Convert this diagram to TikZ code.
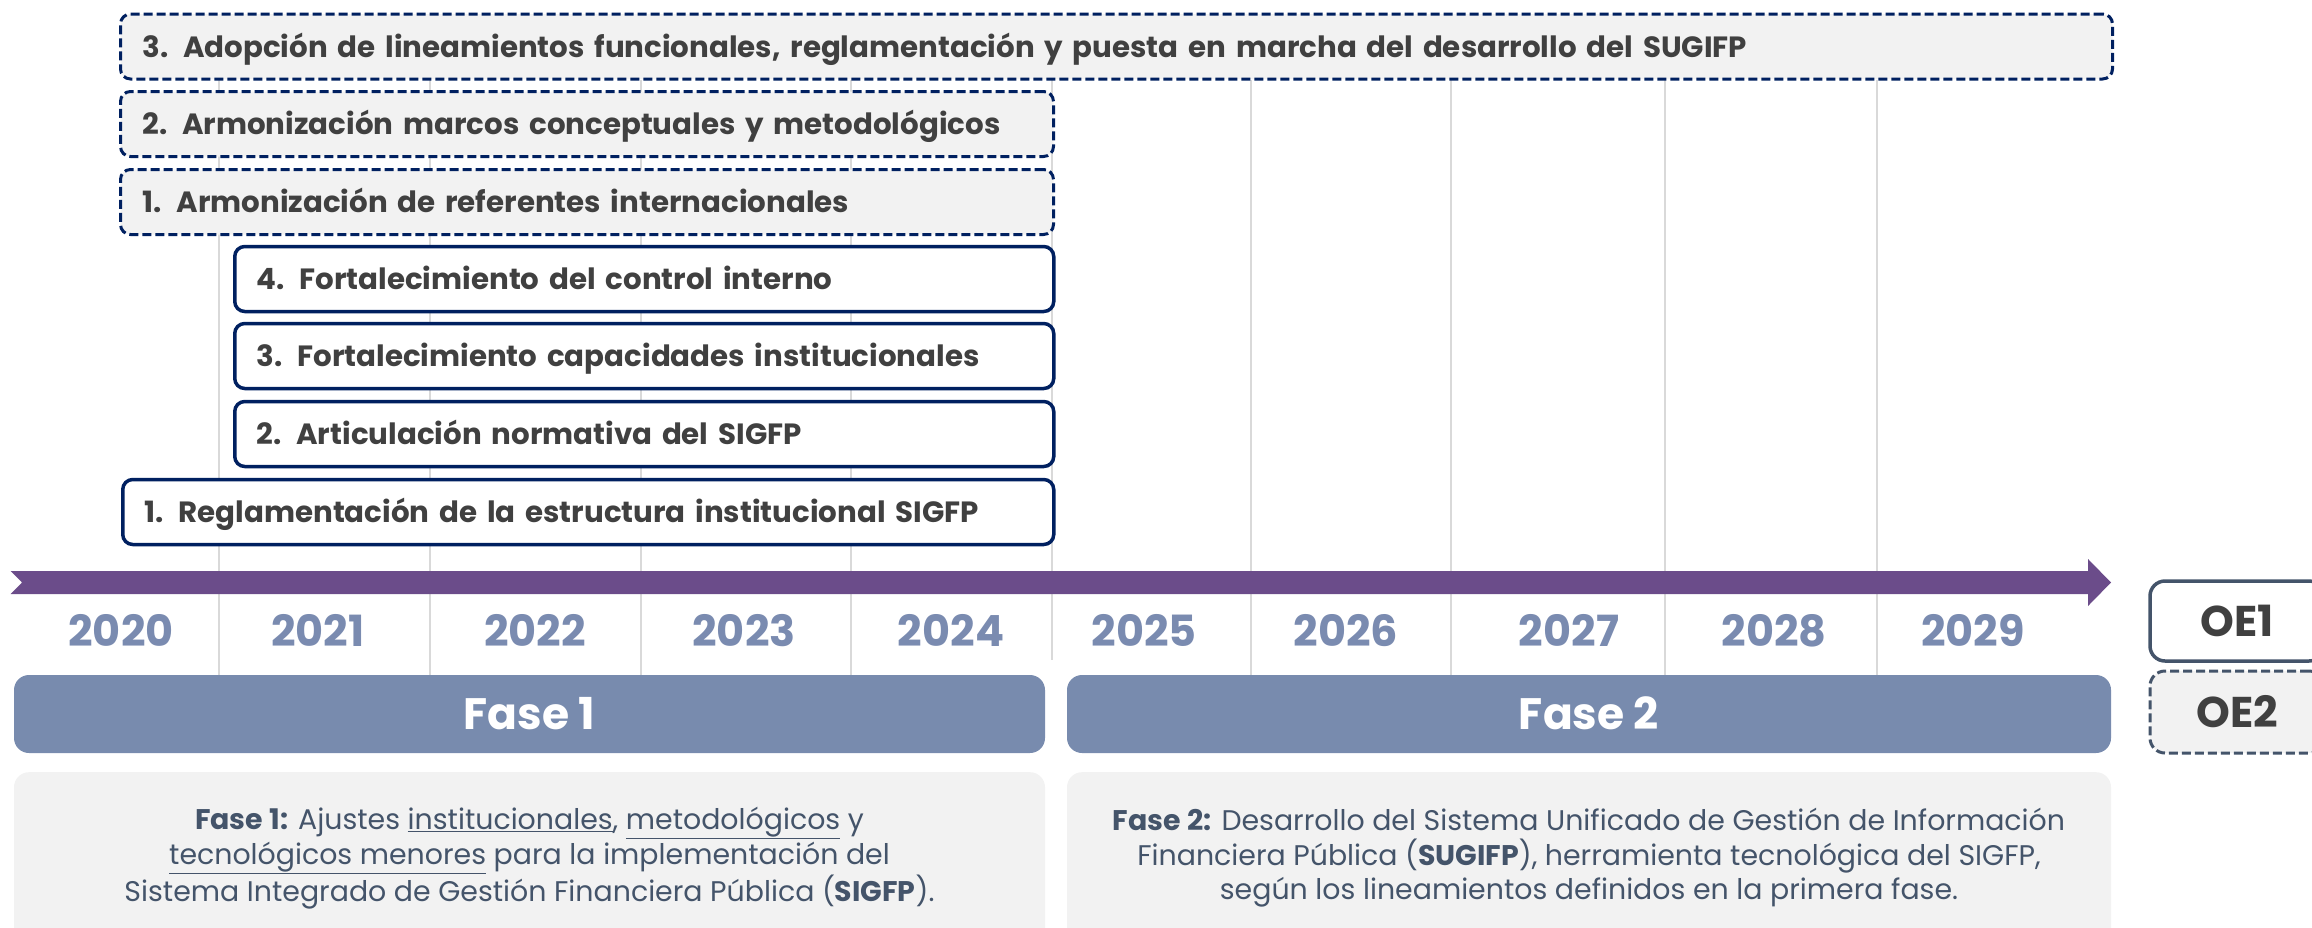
\documentclass[tikz,border=0pt]{standalone}
\usepackage{fontspec}
\setmainfont{Poppins}

\definecolor{navy}{RGB}{0,32,96}
\definecolor{slateline}{RGB}{68,84,106}
\definecolor{txtgray}{RGB}{64,64,64}
\definecolor{yearblue}{RGB}{122,139,176}
\definecolor{fasefill}{RGB}{120,139,174}
\definecolor{lightfill}{RGB}{242,242,242}
\definecolor{gridgray}{RGB}{217,217,217}
\definecolor{timeline}{RGB}{107,76,138}

\begin{document}
\begin{tikzpicture}[x=1pt, y=-1pt,
  every node/.style={inner sep=0pt},
  oeuno/.style={draw=navy, line width=3.5pt, rounded corners=10pt, fill=white,
    minimum height=65pt, inner xsep=22pt, anchor=west, align=left,
    text=txtgray, text height=21pt, text depth=0pt,
    font=\fontsize{29.3}{36}\selectfont\bfseries},
  oedos/.style={oeuno, dash pattern=on 9pt off 4pt, line width=3pt, fill=lightfill},
  year/.style={text=yearblue, text height=31pt, text depth=0pt,
    font=\fontsize{43}{43}\selectfont\bfseries},
  fasebar/.style={fill=fasefill, rounded corners=15pt, minimum width=1031pt,
    minimum height=78pt, text=white, text height=31pt, text depth=0pt,
    font=\fontsize{44}{44}\selectfont\bfseries},
  fasebg/.style={fill=lightfill, rounded corners=15pt, minimum width=1031pt,
    minimum height=190pt, anchor=north},
  fasenote/.style={text=slateline, align=center,
    font=\fontsize{28.4}{34.5}\selectfont},
  legend/.style={draw=slateline, line width=3.5pt, rounded corners=15pt, fill=white,
    minimum width=174pt, minimum height=80pt, text=txtgray,
    text height=31pt, text depth=0pt, font=\fontsize{43}{43}\selectfont\bfseries},
]
\useasboundingbox (0,0) rectangle (2312,927);
\clip (0,0) rectangle (2312,927);

% year grid
\draw[gridgray, line width=2pt] (219,80) -- (219,675);
\draw[gridgray, line width=2pt] (430,80) -- (430,675);
\draw[gridgray, line width=2pt] (641,80) -- (641,675);
\draw[gridgray, line width=2pt] (851,80) -- (851,675);
\draw[gridgray, line width=2pt] (1052,80) -- (1052,660);
\draw[gridgray, line width=2pt] (1251,80) -- (1251,675);
\draw[gridgray, line width=2pt] (1451,80) -- (1451,675);
\draw[gridgray, line width=2pt] (1665,80) -- (1665,675);
\draw[gridgray, line width=2pt] (1877,80) -- (1877,675);

% OE2 lines
\node[oedos, text width=1948pt] (l3) at (119,46.5) {3. Adopción de lineamientos funcionales, reglamentación y puesta en marcha del desarrollo del SUGIFP};
\node[oedos, text width=889pt] (l2) at (119,124) {2. Armonización marcos conceptuales y metodológicos};
\node[oedos, text width=889pt] (l1) at (119,202) {1. Armonización de referentes internacionales};

% OE1 lines
\node[oeuno, text width=775pt] (e4) at (233,279) {4. Fortalecimiento del control interno};
\node[oeuno, text width=775pt] (e3) at (233,356) {3. Fortalecimiento capacidades institucionales};
\node[oeuno, text width=775pt] (e2) at (233,434) {2. Articulación normativa del SIGFP};
\node[oeuno, text width=887pt] (e1) at (121,512) {1. Reglamentación de la estructura institucional SIGFP};

% timeline
\fill[timeline] (10.7,571) -- (2088,571) -- (2088,559) -- (2111,582.5)
  -- (2088,606) -- (2088,594) -- (10.7,594) -- (22,582.5) -- cycle;

% years
\node[year] (y2020) at (121,631) {2020};
\node[year] (y2021) at (318,631) {2021};
\node[year] (y2022) at (535,631) {2022};
\node[year] (y2023) at (744,631) {2023};
\node[year] (y2024) at (951,631) {2024};
\node[year] (y2025) at (1144,631) {2025};
\node[year] (y2026) at (1346,631) {2026};
\node[year] (y2027) at (1569,631) {2027};
\node[year] (y2028) at (1774,631) {2028};
\node[year] (y2029) at (1973,631) {2029};

% phases
\node[fasebar] (f1) at (529.5,714) {Fase 1};
\node[fasebar, minimum width=1044pt] (f2) at (1589,714) {Fase 2};

\node[fasebg] (bg1) at (529.5,772) {};
\node[fasebg, minimum width=1044pt] (bg2) at (1589,772) {};

\node[fasenote] (n1) at (529.5,858) {\textbf{Fase 1:} Ajustes \underline{institucionales}, \underline{metodológicos} y\\
  \underline{tecnológicos menores} para la implementación del\\
  Sistema Integrado de Gestión Financiera Pública (\textbf{SIGFP}).};
\node[fasenote] (n2) at (1589,858) {\textbf{Fase 2:} Desarrollo del Sistema Unificado de Gestión de Información\\
  Financiera Pública (\textbf{SUGIFP}), herramienta tecnológica del SIGFP,\\
  según los lineamientos definidos en la primera fase.};

% legend
\node[legend] (oe1) at (2237,621) {OE1};
\node[legend, dash pattern=on 9pt off 4pt, line width=3pt, fill=lightfill,
  minimum height=82pt] (oe2) at (2237,712) {OE2};

\end{tikzpicture}
\end{document}
